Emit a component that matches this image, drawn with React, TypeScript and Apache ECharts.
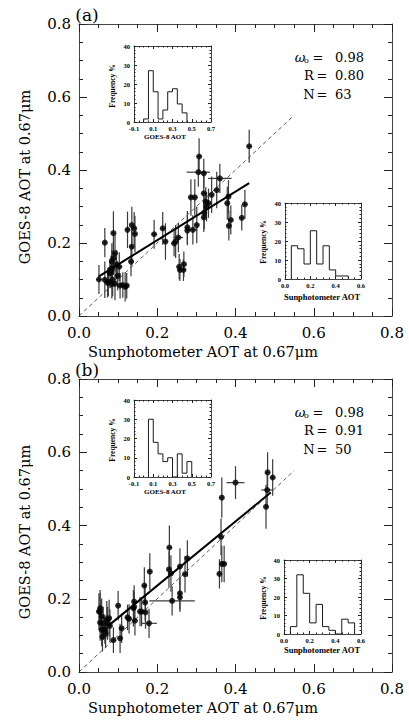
import React, { useEffect, useRef } from "react";
import * as echarts from "echarts";

// ---------- Panel (a) scatter data ----------
const aSun = [0.435, 0.307, 0.305, 0.319, 0.360, 0.352, 0.339, 0.319, 0.286, 0.296, 0.324, 0.331, 0.326, 0.382, 0.379, 0.424, 0.416, 0.388, 0.383, 0.320, 0.319, 0.301, 0.291, 0.277, 0.277, 0.254, 0.243, 0.247, 0.256, 0.267, 0.268, 0.258, 0.221, 0.214, 0.192, 0.124, 0.135, 0.141, 0.143, 0.135, 0.133, 0.066, 0.088, 0.092, 0.088, 0.084, 0.096, 0.084, 0.103, 0.099, 0.051, 0.066, 0.075, 0.084, 0.092, 0.105, 0.118, 0.122, 0.079, 0.086, 0.073, 0.112, 0.082];
const aGoes = [0.465, 0.437, 0.394, 0.391, 0.377, 0.345, 0.332, 0.336, 0.325, 0.325, 0.313, 0.309, 0.299, 0.327, 0.309, 0.306, 0.269, 0.263, 0.247, 0.283, 0.270, 0.249, 0.236, 0.243, 0.234, 0.215, 0.199, 0.204, 0.135, 0.126, 0.142, 0.126, 0.204, 0.240, 0.224, 0.236, 0.249, 0.240, 0.225, 0.190, 0.149, 0.201, 0.227, 0.172, 0.158, 0.149, 0.140, 0.131, 0.135, 0.110, 0.100, 0.099, 0.094, 0.088, 0.088, 0.083, 0.080, 0.083, 0.117, 0.099, 0.091, 0.085, 0.121];
const aGoesErr = [0.045, 0.05, 0.04, 0.04, 0.04, 0.05, 0.05, 0.05, 0.05, 0.05, 0.04, 0.04, 0.04, 0.045, 0.045, 0.04, 0.035, 0.04, 0.04, 0.045, 0.04, 0.05, 0.04, 0.045, 0.04, 0.04, 0.035, 0.045, 0.035, 0.03, 0.035, 0.03, 0.05, 0.045, 0.04, 0.05, 0.05, 0.045, 0.05, 0.05, 0.04, 0.04, 0.06, 0.05, 0.045, 0.05, 0.04, 0.05, 0.04, 0.04, 0.04, 0.05, 0.04, 0.04, 0.045, 0.035, 0.04, 0.035, 0.04, 0.045, 0.04, 0.035, 0.045];
const aSunErr = [0.006, 0.006, 0.03, 0.006, 0.03, 0.006, 0.006, 0.006, 0.006, 0.006, 0.006, 0.006, 0.006, 0.006, 0.006, 0.006, 0.006, 0.006, 0.006, 0.006, 0.006, 0.006, 0.012, 0.006, 0.006, 0.012, 0.006, 0.006, 0.006, 0.006, 0.006, 0.006, 0.006, 0.006, 0.006, 0.006, 0.006, 0.006, 0.006, 0.006, 0.006, 0.006, 0.006, 0.006, 0.006, 0.006, 0.006, 0.006, 0.006, 0.006, 0.006, 0.006, 0.006, 0.006, 0.006, 0.006, 0.006, 0.006, 0.006, 0.006, 0.006, 0.006, 0.006];
const aFitX = [0.05, 0.435];
const aFitY = [0.108, 0.364];

// ---------- Panel (b) scatter data ----------
const bSun = [0.482, 0.495, 0.481, 0.478, 0.400, 0.365, 0.363, 0.359, 0.365, 0.371, 0.231, 0.230, 0.235, 0.238, 0.258, 0.258, 0.258, 0.271, 0.277, 0.181, 0.167, 0.169, 0.141, 0.141, 0.160, 0.170, 0.179, 0.143, 0.124, 0.128, 0.100, 0.109, 0.105, 0.088, 0.054, 0.054, 0.058, 0.054, 0.062, 0.071, 0.077, 0.066, 0.058, 0.079, 0.068, 0.060, 0.051, 0.073, 0.139, 0.156];
const bGoes = [0.545, 0.531, 0.497, 0.451, 0.517, 0.476, 0.369, 0.268, 0.295, 0.295, 0.340, 0.280, 0.269, 0.194, 0.288, 0.215, 0.204, 0.267, 0.310, 0.274, 0.236, 0.190, 0.192, 0.178, 0.165, 0.163, 0.133, 0.140, 0.149, 0.145, 0.181, 0.119, 0.092, 0.087, 0.174, 0.165, 0.151, 0.135, 0.133, 0.144, 0.147, 0.117, 0.115, 0.126, 0.106, 0.096, 0.165, 0.133, 0.174, 0.165];
const bGoesErr = [0.055, 0.05, 0.05, 0.06, 0.045, 0.055, 0.05, 0.04, 0.05, 0.05, 0.06, 0.05, 0.05, 0.04, 0.05, 0.045, 0.04, 0.05, 0.05, 0.05, 0.05, 0.05, 0.045, 0.04, 0.04, 0.045, 0.04, 0.04, 0.035, 0.04, 0.04, 0.04, 0.04, 0.035, 0.05, 0.05, 0.05, 0.05, 0.045, 0.05, 0.05, 0.04, 0.045, 0.045, 0.04, 0.04, 0.05, 0.045, 0.05, 0.04];
const bSunErr = [0.006, 0.006, 0.015, 0.006, 0.023, 0.006, 0.006, 0.006, 0.006, 0.006, 0.006, 0.006, 0.006, 0.058, 0.006, 0.006, 0.006, 0.006, 0.006, 0.006, 0.006, 0.006, 0.006, 0.006, 0.006, 0.006, 0.02, 0.006, 0.006, 0.006, 0.006, 0.006, 0.006, 0.006, 0.006, 0.006, 0.006, 0.006, 0.006, 0.006, 0.006, 0.006, 0.006, 0.006, 0.006, 0.006, 0.006, 0.006, 0.006, 0.006];
const bFitX = [0.077, 0.49];
const bFitY = [0.128, 0.49];

const oneToOne = [0, 0.55];

// ---------- Histograms (frequency %) ----------
const aGoesEdges = [0.0, 0.05, 0.1, 0.15, 0.2, 0.25, 0.3, 0.35, 0.4, 0.45];
const aGoesFreq = [1.6, 27.0, 15.9, 1.6, 6.3, 15.9, 17.5, 9.5, 4.8];
const aSunEdges = [0.05, 0.1, 0.15, 0.2, 0.25, 0.3, 0.35, 0.4, 0.45, 0.5];
const aSunFreq = [17.5, 15.9, 7.9, 25.4, 7.9, 17.5, 4.8, 1.6, 1.6];
const bGoesEdges = [0.05, 0.1, 0.15, 0.2, 0.25, 0.3, 0.35, 0.4, 0.45, 0.5];
const bGoesFreq = [30, 18, 12, 8, 10, 0, 12, 2, 8];
const bSunEdges = [0.05, 0.1, 0.15, 0.2, 0.25, 0.3, 0.35, 0.4, 0.45, 0.5, 0.55];
const bSunFreq = [4, 32, 22, 6, 16, 4, 2, 0, 8, 6];

const MAIN = "'DejaVu Serif', 'Liberation Serif', serif";
const SERIF = "'Liberation Serif', 'DejaVu Serif', serif";

function stepOutline(edges: number[], vals: number[]) {
  const pts: number[][] = [[edges[0], 0]];
  vals.forEach((v, i) => {
    pts.push([edges[i], v]);
    pts.push([edges[i + 1], v]);
  });
  pts.push([edges[edges.length - 1], 0]);
  return pts;
}

function axisPair(grid: number, kind: "x" | "y", main: boolean, min: number, max: number, interval: number, minorSplit: number) {
  const common = (pos: string, label: boolean) => ({
    gridIndex: grid,
    type: "value",
    min,
    max,
    interval,
    position: pos,
    axisLine: { show: true, onZero: false, lineStyle: { color: "#444", width: 1 } },
    axisTick: { show: true, inside: true, length: main ? 8 : 3, lineStyle: { color: "#222", width: 1 } },
    minorTick: { show: true, splitNumber: minorSplit, length: main ? 4 : 1.5, lineStyle: { color: "#222", width: 1 } },
    splitLine: { show: false },
    minorSplitLine: { show: false },
    axisLabel: label
      ? {
          show: true,
          color: "#000",
          fontFamily: main ? MAIN : SERIF,
          fontSize: main ? 15 : 6.5,
          fontWeight: main ? "normal" : "bold",
          margin: main ? (kind === "x" ? 9 : 8) : (kind === "x" ? 3 : 4),
          formatter: (v: number) => (kind === "x" || main ? v.toFixed(1) : String(Math.round(v))),
        }
      : { show: false },
  });
  if (kind === "x") return [common("bottom", true), common("top", false)];
  return [common("left", true), common("right", false)];
}

function errSeries(ai: number, xs: number[], ys: number[], exs: number[], eys: number[]) {
  return {
    type: "custom",
    xAxisIndex: ai,
    yAxisIndex: ai,
    coordinateSystem: "cartesian2d",
    dimensions: ["x", "y", "ex", "ey"],
    encode: { x: 0, y: 1 },
    data: xs.map((x, i) => [x, ys[i], exs[i], eys[i]]),
    silent: true,
    z: 2,
    renderItem: (_p: any, api: any) => {
      const x = api.value(0);
      const y = api.value(1);
      const ex = api.value(2);
      const ey = api.value(3);
      const t = api.coord([x, y + ey]);
      const b = api.coord([x, y - ey]);
      const l = api.coord([x - ex, y]);
      const r = api.coord([x + ex, y]);
      const style = { stroke: "#3a3a3a", lineWidth: 1.2 };
      return {
        type: "group",
        children: [
          { type: "line", shape: { x1: t[0], y1: t[1], x2: b[0], y2: b[1] }, style },
          { type: "line", shape: { x1: l[0], y1: l[1], x2: r[0], y2: r[1] }, style },
        ],
      };
    },
  };
}

function mainSeries(ai: number, xs: number[], ys: number[], exs: number[], eys: number[], fx: number[], fy: number[]) {
  return [
    {
      type: "line",
      xAxisIndex: ai,
      yAxisIndex: ai,
      data: [[oneToOne[0], oneToOne[0]], [oneToOne[1], oneToOne[1]]],
      showSymbol: false,
      silent: true,
      z: 1,
      lineStyle: { color: "#333", width: 0.8, type: [4, 3] },
    },
    errSeries(ai, xs, ys, exs, eys),
    {
      type: "scatter",
      xAxisIndex: ai,
      yAxisIndex: ai,
      data: xs.map((x, i) => [x, ys[i]]),
      symbol: "circle",
      symbolSize: 6,
      itemStyle: { color: "#000" },
      silent: true,
      z: 4,
    },
    {
      type: "line",
      xAxisIndex: ai,
      yAxisIndex: ai,
      data: fx.map((x, i) => [x, fy[i]]),
      showSymbol: false,
      silent: true,
      z: 5,
      lineStyle: { color: "#000", width: 2 },
    },
  ];
}

function histSeries(ai: number, edges: number[], vals: number[]) {
  return {
    type: "line",
    xAxisIndex: ai,
    yAxisIndex: ai,
    data: stepOutline(edges, vals),
    showSymbol: false,
    silent: true,
    z: 3,
    lineStyle: { color: "#1a1a1a", width: 1 },
  };
}

function txt(text: string, x: number, y: number, size: number, family: string, opts: any = {}) {
  return {
    type: "text",
    x,
    y,
    rotation: opts.rotation || 0,
    silent: true,
    style: {
      text,
      fill: "#000",
      fontSize: size,
      fontFamily: family,
      fontWeight: opts.bold ? "bold" : "normal",
      fontStyle: opts.italic ? "italic" : "normal",
      align: opts.align || "center",
      verticalAlign: "middle",
    },
  };
}

function statsBlock(y0: number, w: string, r: string, n: string) {
  const ys = [y0, y0 + 18.5, y0 + 37];
  return [
    txt("ω", 300, ys[0], 13, MAIN, { italic: true }),
    txt("o", 306.5, ys[0] + 3, 8, MAIN),
    txt("=", 318, ys[0], 13, MAIN),
    txt(w, 335, ys[0], 13, MAIN, { align: "left" }),
    txt("R", 309, ys[1], 13, MAIN),
    txt("=", 322, ys[1], 13, MAIN),
    txt(r, 335, ys[1], 13, MAIN, { align: "left" }),
    txt("N", 309, ys[2], 13, MAIN),
    txt("=", 322, ys[2], 13, MAIN),
    txt(n, 335, ys[2], 13, MAIN, { align: "left" }),
  ];
}

const grids = [
  { left: 79, top: 24, width: 313, height: 292 },
  { left: 79, top: 379, width: 313, height: 293 },
  { left: 134, top: 46, width: 77, height: 76 },
  { left: 285, top: 203, width: 76, height: 76 },
  { left: 134, top: 400, width: 77, height: 77 },
  { left: 284, top: 560, width: 77, height: 74 },
];

const xAxes = [
  ...axisPair(0, "x", true, 0, 0.8, 0.2, 4),
  ...axisPair(1, "x", true, 0, 0.8, 0.2, 4),
  ...axisPair(2, "x", false, -0.1, 0.7, 0.2, 4),
  ...axisPair(3, "x", false, 0, 0.6, 0.2, 4),
  ...axisPair(4, "x", false, -0.1, 0.7, 0.2, 4),
  ...axisPair(5, "x", false, 0, 0.6, 0.2, 4),
];
const yAxes = [
  ...axisPair(0, "y", true, 0, 0.8, 0.2, 4),
  ...axisPair(1, "y", true, 0, 0.8, 0.2, 4),
  ...axisPair(2, "y", false, 0, 40, 10, 5),
  ...axisPair(3, "y", false, 0, 40, 10, 5),
  ...axisPair(4, "y", false, 0, 40, 10, 5),
  ...axisPair(5, "y", false, 0, 40, 10, 5),
];

const option: any = {
  animation: false,
  backgroundColor: "#fff",
  textStyle: { fontFamily: MAIN },
  grid: grids,
  xAxis: xAxes,
  yAxis: yAxes,
  series: [
    ...mainSeries(0, aSun, aGoes, aSunErr, aGoesErr, aFitX, aFitY),
    ...mainSeries(2, bSun, bGoes, bSunErr, bGoesErr, bFitX, bFitY),
    histSeries(4, aGoesEdges, aGoesFreq),
    histSeries(6, aSunEdges, aSunFreq),
    histSeries(8, bGoesEdges, bGoesFreq),
    histSeries(10, bSunEdges, bSunFreq),
  ],
  graphic: [
    txt("(a)", 87, 15, 17, MAIN),
    txt("(b)", 87, 370, 17, MAIN),
    txt("Sunphotometer AOT at 0.67μm", 203, 352, 14.5, MAIN),
    txt("Sunphotometer AOT at 0.67μm", 203, 708, 14.5, MAIN),
    txt("GOES-8 AOT at 0.67μm", 25, 177, 14.5, MAIN, { rotation: Math.PI / 2 }),
    txt("GOES-8 AOT at 0.67μm", 25, 532, 14.5, MAIN, { rotation: Math.PI / 2 }),
    // inset titles
    txt("GOES-8 AOT", 165, 137, 7, SERIF, { bold: true }),
    txt("Frequency %", 112, 86, 7.5, SERIF, { bold: true, rotation: Math.PI / 2 }),
    txt("Sunphotometer AOT", 322, 297, 8.5, SERIF, { bold: true }),
    txt("Frequency %", 263, 242, 7.5, SERIF, { bold: true, rotation: Math.PI / 2 }),
    txt("GOES-8 AOT", 165, 492, 7, SERIF, { bold: true }),
    txt("Frequency %", 112, 440, 7.5, SERIF, { bold: true, rotation: Math.PI / 2 }),
    txt("Sunphotometer AOT", 322, 650, 8.5, SERIF, { bold: true }),
    txt("Frequency %", 263, 598, 7.5, SERIF, { bold: true, rotation: Math.PI / 2 }),
    ...statsBlock(57, "0.98", "0.80", "63"),
    ...statsBlock(412, "0.98", "0.91", "50"),
  ],
};

export default function App() {
  const ref = useRef<HTMLDivElement>(null);
  useEffect(() => {
    const chart = echarts.init(ref.current!, null, { renderer: "svg" });
    chart.setOption(option);
    return () => chart.dispose();
  }, []);
  return (
    <div
      ref={ref}
      style={{ position: "fixed", left: 0, top: 0, width: 409, height: 721, background: "#fff" }}
    />
  );
}
